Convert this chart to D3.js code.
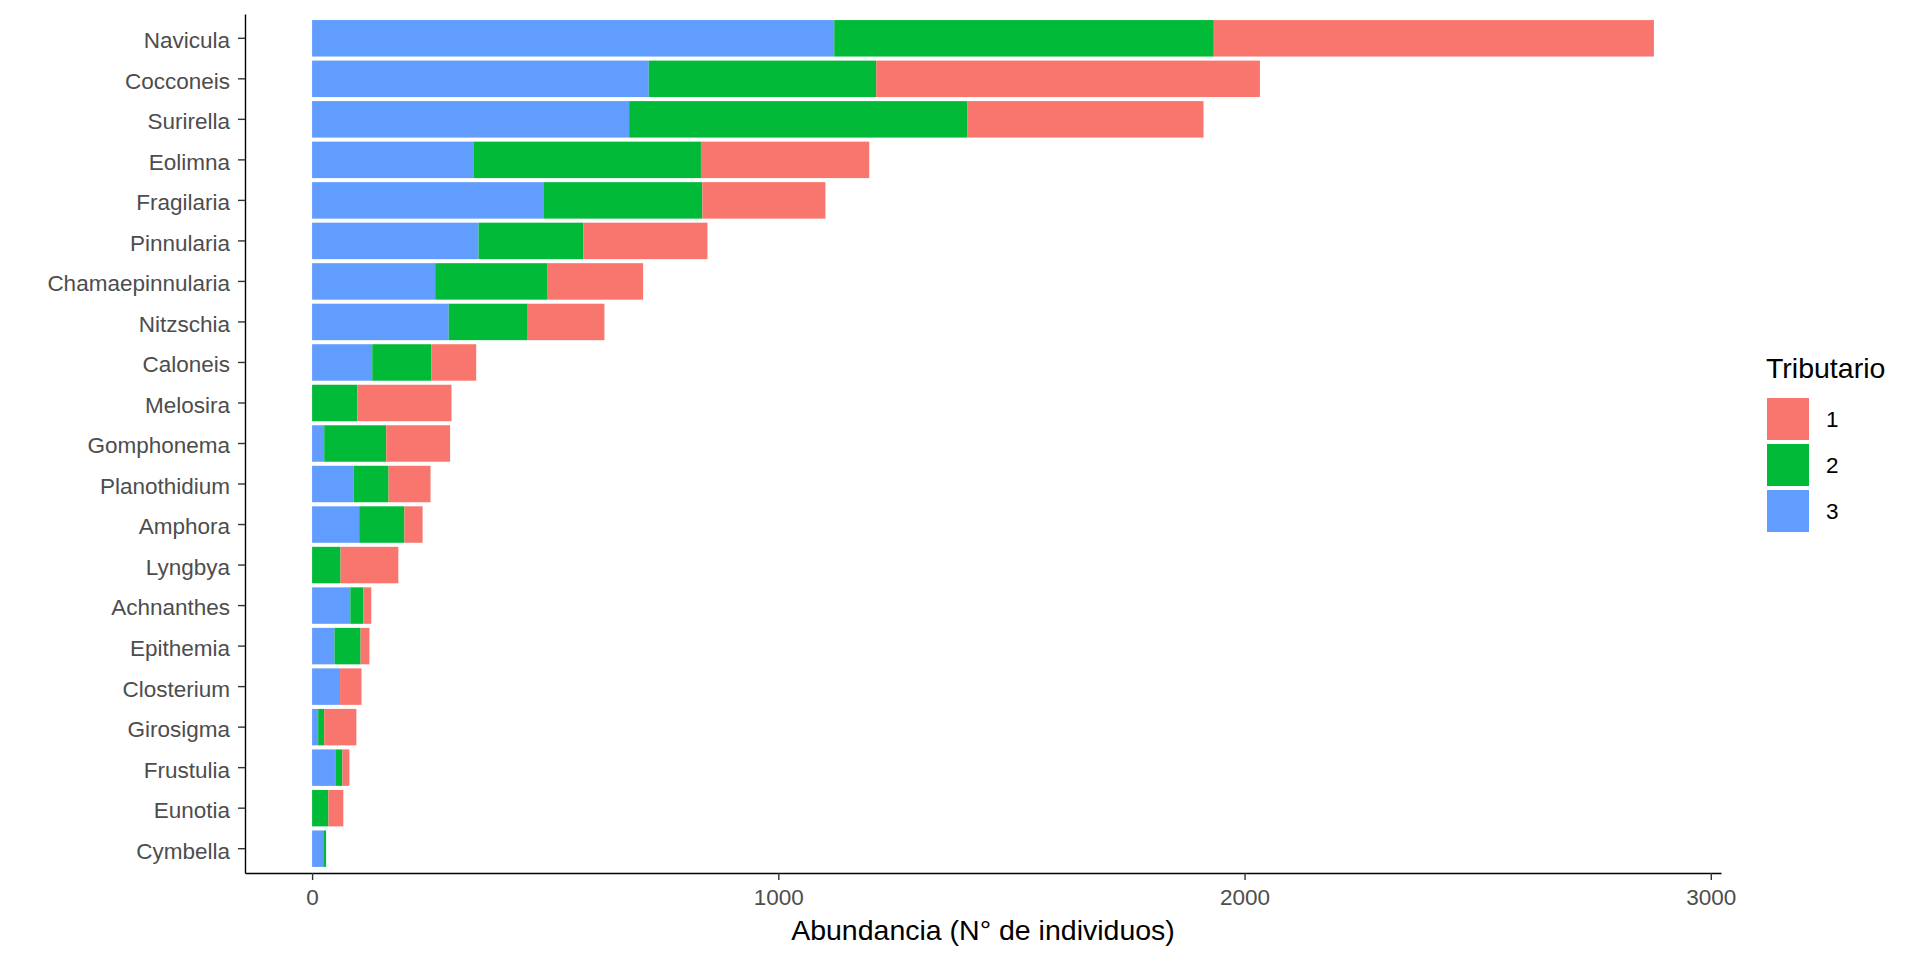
<!DOCTYPE html>
<html>
<head>
<meta charset="utf-8">
<script src="https://cdn.jsdelivr.net/npm/d3@7"></script>
<style>
  html, body { margin: 0; padding: 0; background: #fff; }
  svg { display: block; font-family: "Liberation Sans", Arial, sans-serif; }
</style>
</head>
<body>
<svg id="chart" width="1920" height="960"></svg>
<script>
// Genera (top to bottom)
const categories = ["Navicula","Cocconeis","Surirella","Eolimna","Fragilaria","Pinnularia",
  "Chamaepinnularia","Nitzschia","Caloneis","Melosira","Gomphonema","Planothidium","Amphora",
  "Lyngbya","Achnanthes","Epithemia","Closterium","Girosigma","Frustulia","Eunotia","Cymbella"];
// Abundance per tributario
const trib1 = [944, 823, 507, 361, 264, 266, 206, 166, 96, 202, 137, 90, 39, 124, 17, 19, 46, 69, 15, 32, 0];
const trib2 = [814, 488, 725, 488, 341, 225, 240, 168, 127, 97, 133, 75, 97, 61, 28, 56, 0, 13, 15, 35, 6];
const trib3 = [1120, 722, 680, 346, 496, 357, 264, 293, 129, 0, 26, 89, 101, 0, 82, 48, 60, 13, 50, 0, 24];
const seriesKeys = ["1", "2", "3"];
const seriesColors = ["#F8766D", "#00BA38", "#619CFF"];
const xTicks = [0, 1000, 2000, 3000];
const xTitle = "Abundancia (N° de individuos)";
const legendTitle = "Tributario";

const rows = categories.map((c, i) => ({ cat: c, "1": trib1[i], "2": trib2[i], "3": trib3[i] }));

const svg = d3.select("#chart");
const panel = { left: 245, right: 1721, top: 14, bottom: 873 };

const maxTotal = d3.max(rows, d => d["1"] + d["2"] + d["3"]);
const x = d3.scaleLinear()
  .domain([-0.05 * maxTotal, 1.05 * maxTotal])
  .range([panel.left, panel.right]);
const y = d3.scaleBand()
  .domain(categories)
  .range([panel.top, panel.bottom])
  .paddingInner(0.1)
  .paddingOuter(0.15);
const color = d3.scaleOrdinal().domain(seriesKeys).range(seriesColors);

// stack order: 3 at base, then 2, then 1
const stack = d3.stack().keys(["3", "2", "1"]);
const stacked = stack(rows);

svg.append("g")
  .selectAll("g")
  .data(stacked)
  .join("g")
  .attr("fill", s => color(s.key))
  .selectAll("rect")
  .data(s => s)
  .join("rect")
  .attr("x", d => x(d[0]))
  .attr("width", d => Math.max(0, x(d[1]) - x(d[0])))
  .attr("y", d => y(d.data.cat))
  .attr("height", y.bandwidth());

// axes
const xAxis = svg.append("g")
  .attr("transform", `translate(0,${panel.bottom})`)
  .call(d3.axisBottom(x).tickValues(xTicks).tickFormat(d3.format("d")).tickSize(7).tickSizeOuter(0).tickPadding(9));
const yAxis = svg.append("g")
  .attr("transform", `translate(${panel.left},0)`)
  .call(d3.axisLeft(y).tickSize(7).tickSizeOuter(0).tickPadding(8));

[xAxis, yAxis].forEach(a => {
  a.select(".domain").attr("stroke", "#000").attr("stroke-width", 1.4);
  a.selectAll(".tick line").attr("stroke", "#333333").attr("stroke-width", 1.4);
  a.selectAll(".tick text").attr("fill", "#4D4D4D").style("font-size", "22.5px")
    .style("font-family", '"Liberation Sans", Arial, sans-serif');
});
yAxis.selectAll(".tick text").attr("dy", "0.44em");
xAxis.selectAll(".tick text").attr("dy", "0.71em");

// x axis title
svg.append("text")
  .attr("x", (panel.left + panel.right) / 2)
  .attr("y", 940)
  .attr("text-anchor", "middle")
  .style("font-size", "28.5px")
  .attr("fill", "#000")
  .text(xTitle);

// legend
const legend = svg.append("g");
legend.append("text")
  .attr("x", 1766)
  .attr("y", 378)
  .style("font-size", "28.5px")
  .attr("fill", "#000")
  .text(legendTitle);
const keyG = legend.selectAll("g.key")
  .data(seriesKeys)
  .join("g")
  .attr("class", "key")
  .attr("transform", (d, i) => `translate(1767,${398 + i * 46})`);
keyG.append("rect")
  .attr("width", 42)
  .attr("height", 42)
  .attr("fill", d => color(d));
keyG.append("text")
  .attr("x", 59)
  .attr("y", 21)
  .attr("dy", "0.36em")
  .style("font-size", "22.5px")
  .attr("fill", "#000")
  .text(d => d);
</script>
</body>
</html>
